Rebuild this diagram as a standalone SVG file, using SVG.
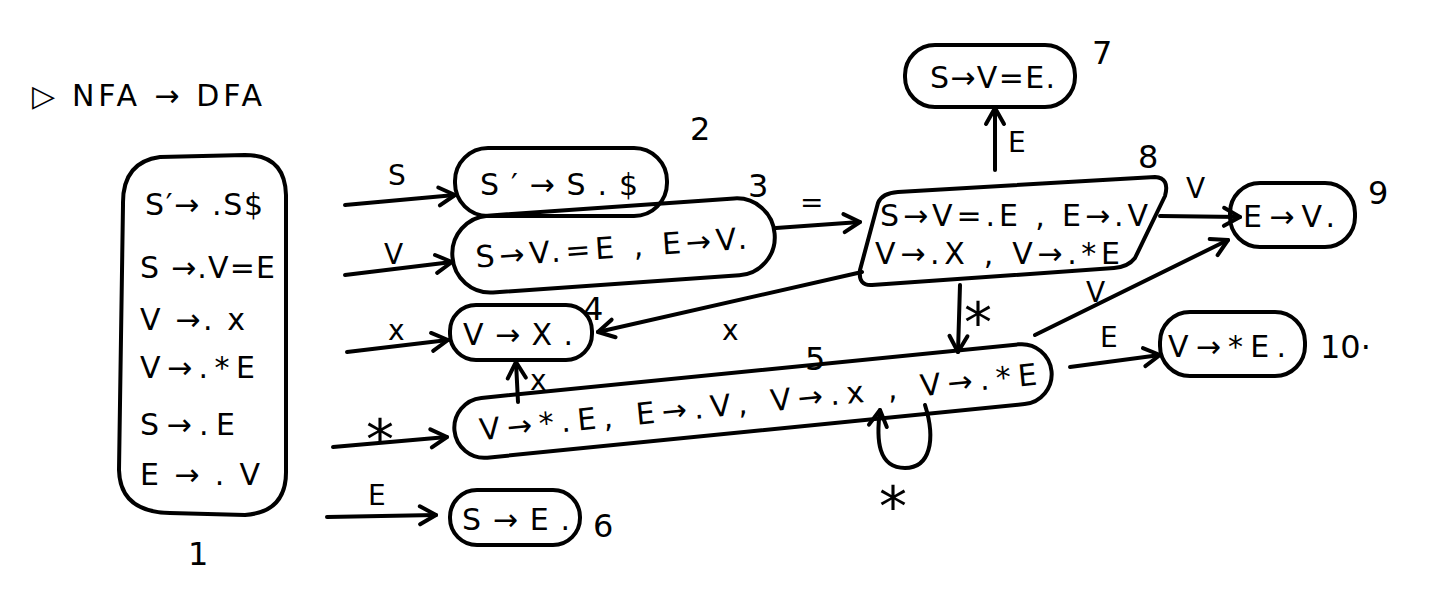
<svg xmlns="http://www.w3.org/2000/svg" width="1447" height="596" viewBox="0 0 1447 596">
<defs>
<marker id="ah" markerUnits="userSpaceOnUse" markerWidth="24" markerHeight="24" viewBox="0 0 24 24" refX="20" refY="12" orient="auto">
<path d="M 4,3 L 20,12 L 4,21" fill="none" stroke="#000" stroke-width="4" stroke-linecap="round" stroke-linejoin="round"/>
</marker>
</defs>
<style>
.n{fill:none;stroke:#000;stroke-width:4;stroke-linecap:round;stroke-linejoin:round}
.e{fill:none;stroke:#000;stroke-width:4;stroke-linecap:round;marker-end:url(#ah)}
.t{font-family:"DejaVu Sans","Liberation Sans",sans-serif;font-size:30px;fill:#000}
.l{font-family:"DejaVu Sans","Liberation Sans",sans-serif;font-size:28px;fill:#000}
.s{font-family:"DejaVu Sans","Liberation Sans",sans-serif;font-size:56px;fill:#000}
.k{font-family:"DejaVu Sans","Liberation Sans",sans-serif;font-size:32px;fill:#000}
</style>
<rect width="1447" height="596" fill="#fff"/>
<text class="t" x="32" y="106" font-size="38" textLength="230">▷ NFA → DFA</text>

<g id="connectors">
<path class="e" d="M 345,205 L 455,195"/>
<text class="l" x="388" y="185">S</text>
<path class="e" d="M 345,275 L 452,262"/>
<text class="l" x="384" y="264">V</text>
<path class="e" d="M 347,352 L 448,340"/>
<text class="l" x="388" y="340">x</text>
<path class="e" d="M 333,447 L 447,437"/>
<text class="s" x="366" y="459">*</text>
<path class="e" d="M 327,517 L 436,515"/>
<text class="l" x="368" y="505">E</text>
<path class="e" d="M 776,228 L 860,222"/>
<text class="l" x="800" y="212">=</text>
<path class="e" d="M 995,170 L 995,108"/>
<text class="l" x="1008" y="152">E</text>
<path class="e" d="M 1160,216 L 1240,217"/>
<text class="l" x="1186" y="198">V</text>
<path class="e" d="M 862,272 L 598,332"/>
<text class="l" x="722" y="340">x</text>
<path class="e" d="M 960,285 L 958,352"/>
<text class="s" x="964" y="342">*</text>
<path class="e" d="M 1035,335 L 1228,240"/>
<text class="l" x="1086" y="302">V</text>
<path class="e" d="M 1070,367 L 1160,355"/>
<text class="l" x="1100" y="347">E</text>
<path class="e" d="M 518,402 L 516,362"/>
<text class="l" x="530" y="390" font-size="22">x</text>
<path class="e" d="M 925,405 C 936,440 930,468 905,468 C 878,468 876,440 880,410"/>
<text class="s" x="879" y="526">*</text>
</g>

<g id="node1">
<path class="n" d="M 160,157 Q 122,162 123,205 L 119,470 Q 120,512 170,513 L 245,515 Q 287,512 286,470 L 286,195 Q 285,155 245,155 Z"/>
<text class="t" x="145" y="215" textLength="118">S′→ .S$</text>
<text class="t" x="140" y="278" textLength="135">S →.V=E</text>
<text class="t" x="140" y="330" textLength="105">V →. x</text>
<text class="t" x="140" y="378" textLength="115">V→.*E</text>
<text class="t" x="140" y="435" textLength="95">S→.E</text>
<text class="t" x="140" y="485" textLength="120">E→.V</text>
<text class="k" x="188" y="565">1</text>
</g>

<g id="node2">
<rect class="n" x="455" y="148" width="212" height="68" rx="33"/>
<text class="t" x="480" y="195" font-size="36" textLength="158">S′→S.$</text>
<text class="k" x="690" y="140">2</text>
</g>

<g id="node3">
<rect class="n" x="452" y="207" width="323" height="77" rx="38" transform="rotate(-4 613 245)"/>
<text class="t" x="475" y="258" textLength="272" transform="rotate(-4 613 245)">S→V.=E , E→V.</text>
<text class="k" x="748" y="197">3</text>
</g>

<g id="node4">
<rect class="n" x="450" y="305" width="142" height="55" rx="26"/>
<text class="t" x="463" y="345" font-size="34" textLength="110">V→X.</text>
<text class="k" x="583" y="320">4</text>
</g>

<g id="node5">
<rect class="n" x="453" y="371" width="600" height="60" rx="30" transform="rotate(-5.7 753 401)"/>
<text class="t" x="478" y="413" font-size="32" textLength="560" transform="rotate(-5.7 753 401)">V→*.E, E→.V, V→.x , V→.*E</text>
<text class="k" x="805" y="370">5</text>
</g>

<g id="node6">
<rect class="n" x="450" y="490" width="130" height="55" rx="27"/>
<text class="t" x="462" y="530" font-size="32" textLength="108">S→E.</text>
<text class="k" x="593" y="537">6</text>
</g>

<g id="node7">
<rect class="n" x="905" y="45" width="170" height="62" rx="30"/>
<text class="t" x="930" y="88" textLength="125">S→V=E.</text>
<text class="k" x="1092" y="64">7</text>
</g>

<g id="node8">
<path class="n" d="M 878,203 Q 882,193 898,192 L 1155,177 Q 1170,178 1165,196 L 1135,258 Q 1128,267 1114,268 L 872,285 Q 858,286 860,270 Z"/>
<text class="t" x="880" y="226" textLength="268">S→V=.E , E→.V</text>
<text class="t" x="875" y="264" textLength="245">V→.X , V→.*E</text>
<text class="k" x="1138" y="168">8</text>
</g>

<g id="node9">
<rect class="n" x="1230" y="183" width="125" height="64" rx="30"/>
<text class="t" x="1243" y="227" textLength="92">E→V.</text>
<text class="k" x="1368" y="204">9</text>
</g>

<g id="node10">
<rect class="n" x="1160" y="312" width="145" height="64" rx="30"/>
<text class="t" x="1168" y="357" textLength="118">V→*E.</text>
<text class="k" x="1320" y="358">10·</text>
</g>
</svg>
